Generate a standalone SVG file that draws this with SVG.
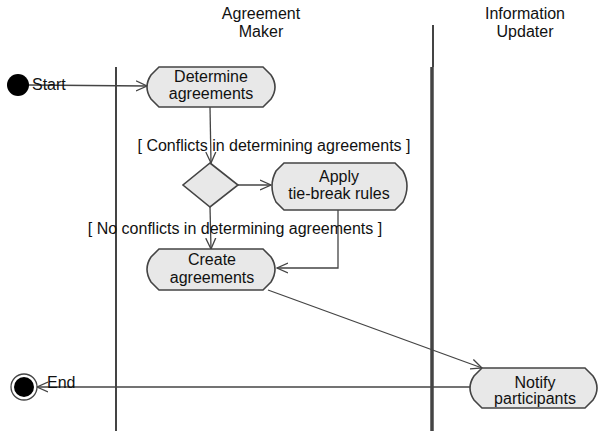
<svg xmlns="http://www.w3.org/2000/svg" width="615" height="431" viewBox="0 0 615 431">
<defs>
<marker id="open" viewBox="0 0 12 12" refX="11" refY="6" markerWidth="12" markerHeight="12" markerUnits="userSpaceOnUse" orient="auto">
<path d="M0,1 L11,6 L0,11" fill="none" stroke="#444" stroke-width="1.3"/>
</marker>
</defs>
<style>
text{font-family:"Liberation Sans",Arial,sans-serif;font-size:16px;fill:#111;}
.c{text-anchor:middle;}
.node{fill:#e8e8e8;stroke:#444;stroke-width:1.6;}
.conn{fill:none;stroke:#444;stroke-width:1.3;}
.lane{stroke:#444;fill:none;}
</style>
<rect width="615" height="431" fill="#fff"/>
<g id="lanes">
<line class="lane" x1="116" y1="67" x2="116" y2="431" stroke-width="2"/>
<line class="lane" x1="433" y1="25" x2="433" y2="67" stroke-width="2"/>
<line class="lane" x1="432" y1="67" x2="432" y2="431" stroke-width="3.5"/>
<text class="c" x="261" y="19">Agreement</text>
<text class="c" x="261" y="37">Maker</text>
<text class="c" x="525" y="19">Information</text>
<text class="c" x="525" y="37">Updater</text>
</g>
<g id="connectors">
<line class="conn" x1="28" y1="85" x2="147" y2="86" marker-end="url(#open)"/>
<line class="conn" x1="210" y1="107" x2="211" y2="163" marker-end="url(#open)"/>
<line class="conn" x1="238" y1="185" x2="271" y2="185" marker-end="url(#open)"/>
<line class="conn" x1="210" y1="207" x2="211" y2="249" marker-end="url(#open)"/>
<polyline class="conn" points="338,210 338,268 277,268" marker-end="url(#open)"/>
<line class="conn" x1="268" y1="290" x2="482" y2="368" marker-end="url(#open)"/>
<line class="conn" x1="470" y1="387" x2="37" y2="387" marker-end="url(#open)"/>
<text class="c" x="274" y="151">[ Conflicts in determining agreements ]</text>
<text class="c" x="235" y="234">[ No conflicts in determining agreements ]</text>
</g>
<g id="start">
<circle cx="18" cy="85" r="11" fill="#000"/>
<text x="32" y="90">Start</text>
</g>
<g id="determine">
<path class="node" d="M159,67 L263,67 L271,75 Q279,87 271,99 L263,107 L159,107 L151,99 Q143,87 151,75 Z"/>
<text class="c" x="211" y="82">Determine</text>
<text class="c" x="211" y="99">agreements</text>
</g>
<g id="decision">
<polygon class="node" points="210,163 238,185 210,207 183,185" stroke-width="1.3"/>
</g>
<g id="apply">
<path class="node" d="M284,163 L395,163 L403,171 Q411,186 403,202 L395,210 L284,210 L276,202 Q268,186 276,171 Z"/>
<text class="c" x="339" y="182">Apply</text>
<text class="c" x="339" y="199">tie-break rules</text>
</g>
<g id="create">
<path class="node" d="M159,249 L263,249 L271,257 Q279,269 271,282 L263,290 L159,290 L151,282 Q143,269 151,257 Z"/>
<text class="c" x="212" y="265">Create</text>
<text class="c" x="212" y="283">agreements</text>
</g>
<g id="notify">
<path class="node" d="M482,368 L585,368 L593,376 Q601,388 593,400 L585,408 L482,408 L474,400 Q466,388 474,376 Z"/>
<text class="c" x="535" y="388">Notify</text>
<text class="c" x="535" y="404">participants</text>
</g>
<g id="end">
<circle cx="24" cy="387" r="13" fill="#fff" stroke="#444" stroke-width="1.3"/>
<circle cx="24" cy="387" r="10" fill="#000"/>
<text x="47" y="388">End</text>
</g>
</svg>
